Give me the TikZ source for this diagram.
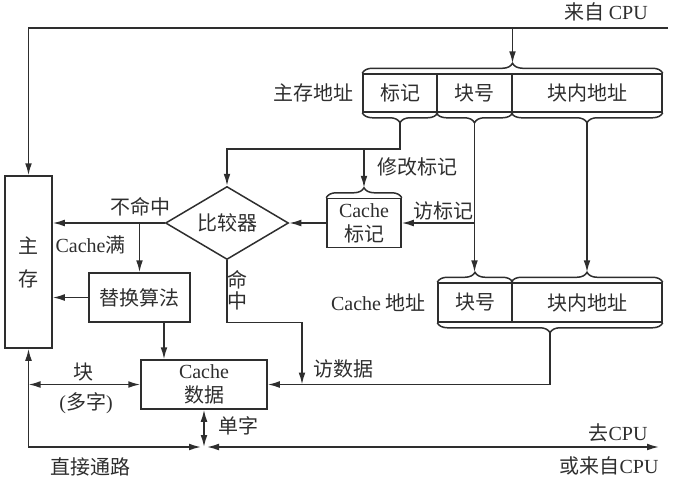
\documentclass[tikz,border=0pt]{standalone}
\usepackage{fontspec}
\setmainfont{Liberation Serif}
\newfontfamily\cjk{Noto Sans CJK SC}
\usepackage{xcolor}
\usetikzlibrary{arrows.meta,calc,shapes.geometric,decorations.pathreplacing}
\definecolor{linegray}{HTML}{2E2E2E}
\newcommand{\latn}[1]{{\rmfamily #1}}

\begin{document}
\begin{tikzpicture}[x=0.5pt,y=-0.5pt,line width=0.75pt,color=linegray,
  every node/.style={font=\cjk},
  >={Latex[length=6pt,width=3.4pt]},
  box/.style={draw,rectangle,inner sep=0pt,align=center},
  brc/.style={decorate,decoration={brace,amplitude=5pt}}]
  \useasboundingbox (0,0) rectangle (678,488);
  % boxes
  \node[box,minimum width=23.5pt,minimum height=86pt] (mem) at (28.5,262) {主\\[4.5pt]存};
  \node[box,minimum width=37pt,minimum height=19pt] (mtag) at (400,93) {标记};
  \node[box,minimum width=37.5pt,minimum height=19pt] (mblk) at (474.5,93) {块号};
  \node[box,minimum width=75pt,minimum height=19pt] (moff) at (587,93) {块内地址};
  \node[anchor=east] (mlabel) at (361,93) {主存地址};
  \node[box,minimum width=37pt,minimum height=24.5pt] (ctag) at (364,223) {\latn{Cache}\\标记};
  \node[diamond,draw,aspect=1.7,minimum width=61.5pt,minimum height=36.5pt,inner sep=0pt] (cmp) at (227,223) {比较器};
  \node[box,minimum width=50.5pt,minimum height=24.5pt] (repl) at (139.5,297.5) {替换算法};
  \node[box,minimum width=63pt,minimum height=24.5pt] (data) at (204,384.5) {\latn{Cache}\\数据};
  \node[box,minimum width=37pt,minimum height=19.5pt] (cblk) at (475,302.5) {块号};
  \node[box,minimum width=75pt,minimum height=19.5pt] (coff) at (587,302.5) {块内地址};
  \node[anchor=east] (clabel) at (433,302.5) {\latn{Cache} 地址};
  % braces
  \draw[brc] (mtag.north west) -- (moff.north east);
  \draw[brc] (mtag.south east) -- (mtag.south west);
  \draw[brc] (mblk.south east) -- (mblk.south west);
  \draw[brc] (moff.south east) -- (moff.south west);
  \draw[brc] (ctag.north west) -- (ctag.north east);
  \draw[brc] (cblk.north west) -- (cblk.north east);
  \draw[brc] (coff.north west) -- (coff.north east);
  \draw[brc] (coff.south east) -- (cblk.south west);
  \coordinate (mtip) at ([yshift=5pt]$(mtag.north west)!.5!(moff.north east)$);
  \coordinate (tagtip) at ([yshift=-5pt]mtag.south);
  \coordinate (blktip) at ([yshift=-5pt]mblk.south);
  \coordinate (offtip) at ([yshift=-5pt]moff.south);
  \coordinate (ctagtip) at ([yshift=5pt]ctag.north);
  \coordinate (cblktip) at ([yshift=5pt]cblk.north);
  \coordinate (cofftip) at ([yshift=5pt]coff.north);
  \coordinate (ctip) at ([yshift=-5pt]$(cblk.south west)!.5!(coff.south east)$);
  \coordinate (cpuin) at (668,28);
  \coordinate (hit) at (data.east -| 302,0);
  \coordinate (jn) at (data.south |- 0,447);
  \coordinate (cpuout) at (659,447);
  % connectors
  \draw[->] (cpuin) -| (mem.north);
  \draw[->] (mtip |- cpuin) -- (mtip);
  \draw[->] (tagtip) -- ++(0,26) -| (cmp.north);
  \draw[->] (ctagtip |- 0,148) -- (ctagtip);
  \draw[->] (blktip) -- (blktip |- cblktip);
  \draw[->] (offtip) -- (cofftip);
  \draw[->] (blktip |- ctag.east) -- (ctag.east);
  \draw[->] (ctag.west) -- (cmp.east);
  \draw[->] (cmp.west) -- (cmp.west -| mem.east);
  \draw[->] (cmp.west -| repl.north) -- (repl.north);
  \draw[->] (repl.west) -- (repl.west -| mem.east);
  \draw[->] (repl.south -| 164,0) -- (data.north -| 164,0);
  \draw[->] (cmp.south) -- ++(0,62) -| (hit);
  \draw[->] (ctip) |- (data.east);
  \draw[<->] (mem.south |- data.west) -- (data.west);
  \draw[<->,shorten <=1.5pt] (jn) -| (mem.south);
  \draw[<->] (data.south) -- (jn);
  \draw[<->,shorten <=1.5pt] (jn) -- (cpuout);
  % labels
  \node (lcpuin) at (606,12) {来自 \latn{CPU}};
  \node[anchor=west] (lmod) at (370,167) {修改标记};
  \node (lvtag) at (443,211) {访标记};
  \node (lmiss) at (140,207) {不命中};
  \node[anchor=east] (lfull) at (133,245) {\latn{Cache}满};
  \node[align=center] (lhit) at (237,290) {命\\[-1.5pt]中};
  \node (lvdata) at (343,369) {访数据};
  \node (lblk) at (83,372) {块};
  \node (lmulti) at (86,403) {\latn{(}多字\latn{)}};
  \node[anchor=west] (lword) at (211,426) {单字};
  \node (ldirect) at (90,467) {直接通路};
  \node (lto) at (618,433) {去\latn{CPU}};
  \node (lfrom) at (609,466) {或来自\latn{CPU}};
\end{tikzpicture}
\end{document}
